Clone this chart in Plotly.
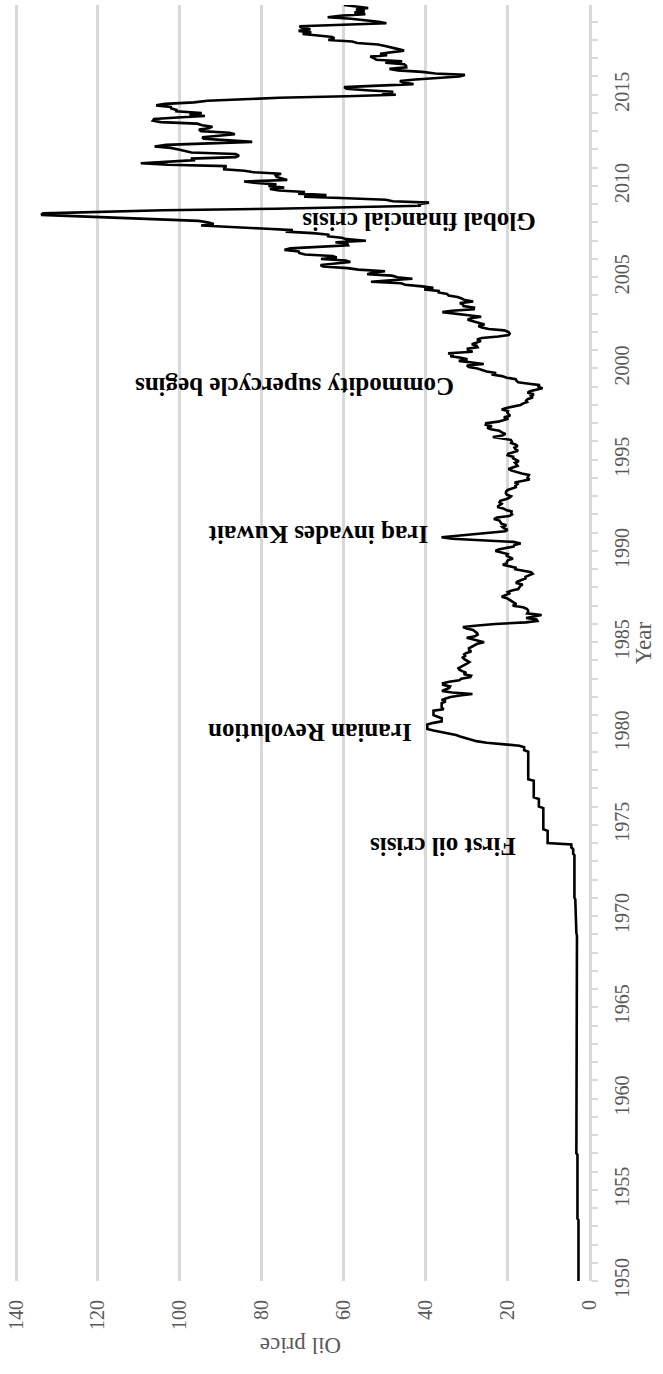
import pandas as pd
import plotly.graph_objects as go

# ---------------- data ----------------
# posted-price era (change points)
early_dates = ["1950-01-01", "1953-05-01", "1953-06-01", "1956-12-01", "1957-01-01",
               "1959-01-01", "1959-02-01", "1964-12-01", "1968-12-01", "1969-02-01",
               "1970-11-01", "1970-12-01", "1971-01-01", "1973-05-01", "1973-06-01",
               "1973-09-01", "1973-10-01", "1973-12-01", "1974-01-01", "1974-09-01",
               "1974-10-01", "1975-12-01", "1976-01-01", "1976-06-01", "1976-07-01",
               "1977-06-01", "1977-07-01", "1978-12-01"]
early_prices = [2.57, 2.57, 2.82, 2.82, 3.09,
                3.07, 2.97, 2.92, 2.94, 3.09,
                3.18, 3.35, 3.56, 3.56, 3.87,
                3.87, 4.31, 4.31, 10.11, 10.11,
                11.16, 11.16, 12.25, 12.25, 13.50,
                13.50, 14.85, 14.85]

monthly_start = "1979-01-01"
prices_1979_1989 = [
    14.85, 15.85, 15.85, 15.85, 17.00, 21.75, 25.00, 27.50, 29.00, 30.00, 31.50, 32.50,
    34.50, 37.00, 38.00, 39.50, 39.50, 39.50, 39.50, 38.00, 36.00, 36.00, 36.00, 37.00,
    38.00, 38.00, 38.00, 38.00, 35.50, 36.00, 36.00, 36.00, 36.00, 35.00, 36.00, 35.00,
    33.85, 31.56, 28.48, 33.45, 35.93, 35.07, 34.16, 33.95, 35.63, 35.68, 34.15, 31.72,
    31.19, 28.99, 28.81, 30.61, 30.00, 31.00, 31.66, 31.90, 31.11, 30.41, 29.84, 29.24,
    29.98, 30.55, 30.85, 30.26, 30.51, 29.96, 28.79, 29.30, 29.34, 28.75, 28.20, 27.30,
    25.64, 27.30, 28.24, 29.88, 27.89, 27.20, 27.33, 27.73, 28.33, 29.88, 30.80, 27.21,
    22.93, 15.46, 12.61, 12.84, 15.38, 13.43, 11.59, 15.10, 14.87, 14.90, 15.22, 16.11,
    18.65, 17.75, 18.30, 18.68, 19.44, 20.07, 21.34, 20.31, 19.53, 19.86, 18.85, 17.28,
    17.13, 16.80, 16.20, 17.86, 17.42, 16.53, 15.50, 15.52, 14.54, 13.77, 14.14, 16.38,
    18.02, 17.94, 19.48, 21.07, 20.12, 20.05, 19.78, 18.58, 19.59, 20.10, 19.86, 21.10,
]
prices_1990_1999 = [
    22.86, 22.11, 20.39, 18.43, 18.20, 16.70, 18.45, 27.31, 33.51, 36.04, 32.33, 27.28,
    25.23, 20.48, 19.90, 20.83, 21.23, 20.19, 21.40, 21.69, 21.89, 23.23, 22.46, 19.50,
    18.79, 19.01, 18.92, 20.23, 20.98, 22.39, 21.78, 21.34, 21.88, 21.69, 20.34, 19.41,
    19.03, 20.09, 20.32, 20.25, 19.95, 19.09, 17.89, 18.01, 17.50, 18.15, 16.61, 14.52,
    15.03, 14.78, 14.68, 16.42, 17.89, 19.06, 19.66, 18.38, 17.45, 17.72, 18.07, 17.16,
    18.04, 18.57, 18.54, 19.90, 19.74, 18.45, 17.33, 18.02, 18.23, 17.43, 17.99, 19.03,
    18.85, 19.09, 21.33, 23.50, 21.17, 20.42, 21.30, 21.90, 23.97, 24.88, 23.71, 25.23,
    25.13, 22.18, 20.97, 19.70, 20.82, 19.26, 19.66, 19.95, 19.80, 21.33, 20.19, 18.33,
    16.72, 16.06, 15.12, 15.35, 14.91, 13.72, 14.17, 13.47, 15.03, 14.46, 13.00, 11.35,
    12.52, 12.01, 14.68, 17.31, 17.72, 17.92, 20.10, 21.28, 23.80, 22.69, 25.00, 26.10,
]
prices_2000_2009 = [
    27.26, 29.37, 29.84, 25.72, 28.79, 31.82, 29.70, 31.26, 33.88, 33.11, 34.42, 28.44,
    29.59, 29.61, 27.25, 27.49, 28.63, 27.60, 26.43, 27.37, 26.20, 22.17, 19.64, 19.39,
    19.72, 20.72, 24.53, 26.18, 27.04, 25.52, 26.97, 28.39, 29.66, 28.84, 26.35, 29.46,
    32.95, 35.83, 33.51, 28.17, 28.11, 30.66, 30.76, 31.57, 28.31, 30.34, 31.11, 32.13,
    34.31, 34.69, 36.74, 36.75, 40.28, 38.03, 40.78, 44.90, 45.94, 53.28, 48.47, 43.15,
    46.84, 48.15, 54.19, 52.98, 49.83, 56.35, 59.00, 64.99, 65.59, 62.26, 58.32, 59.41,
    65.49, 61.63, 62.69, 69.44, 70.84, 70.95, 74.41, 73.04, 63.80, 58.89, 59.08, 61.96,
    54.51, 59.28, 60.44, 63.98, 63.46, 67.49, 74.12, 72.36, 79.92, 85.80, 94.77, 91.69,
    92.97, 95.39, 105.45, 112.58, 125.40, 133.88, 133.37, 116.67, 104.11, 76.61, 57.31, 41.12,
    41.71, 39.09, 47.94, 49.65, 59.03, 69.64, 64.15, 71.05, 69.41, 75.72, 77.99, 74.47,
]
prices_2010_2019 = [
    78.33, 76.39, 81.20, 84.29, 73.74, 75.34, 76.32, 76.60, 75.24, 81.89, 84.25, 89.15,
    89.17, 88.58, 102.86, 109.53, 100.90, 96.26, 97.30, 86.33, 85.52, 86.32, 97.16, 98.56,
    100.27, 102.20, 106.16, 103.32, 94.66, 82.30, 87.90, 94.13, 94.51, 89.49, 86.53, 87.86,
    94.76, 95.31, 92.94, 92.02, 94.51, 95.77, 104.67, 106.57, 106.29, 100.54, 93.86, 97.63,
    94.62, 100.82, 100.80, 102.07, 102.18, 105.79, 103.59, 96.54, 93.21, 84.40, 75.79, 59.29,
    47.22, 50.58, 47.82, 54.45, 59.27, 59.82, 50.90, 42.87, 45.48, 46.22, 42.44, 37.19,
    31.68, 30.32, 37.55, 40.75, 46.71, 48.76, 44.65, 44.72, 45.18, 49.78, 45.66, 51.97,
    52.50, 53.47, 49.33, 51.06, 48.48, 45.18, 46.63, 48.04, 49.82, 51.58, 56.64, 57.88,
    63.70, 62.23, 62.73, 66.25, 69.98, 67.87, 70.98, 68.06, 70.23, 70.75, 56.96, 49.52,
    51.38, 54.95, 58.15, 63.86, 60.83, 54.66, 57.35, 54.81, 56.95, 53.96, 57.03, 59.88,
]

event_labels = ["Global financial crisis", "Commodity supercycle begins",
                "Iraq invades Kuwait", "Iranian Revolution", "First oil crisis"]
event_dates = ["2008-02-01", "1999-01-01", "1990-11-15", "1980-01-10", "1973-10-10"]
price_ticks = [0, 20, 40, 60, 80, 100, 120, 140]

# ---------------- build ----------------
monthly_prices = prices_1979_1989 + prices_1990_1999 + prices_2000_2009 + prices_2010_2019
monthly_dates = list(pd.date_range(monthly_start, periods=len(monthly_prices), freq="MS").strftime("%Y-%m-%d"))
dates = early_dates + monthly_dates
prices = early_prices + monthly_prices

FONT = "Liberation Serif"
GRID = "#d9d9d9"
TXT = "#595959"

fig = go.Figure()
fig.add_trace(go.Scatter(x=prices, y=dates, mode="lines",
                         line=dict(color="black", width=2.6), hoverinfo="skip",
                         showlegend=False))

label_right_price = [12.5, 32.5, 38.7, 42.8, 17.5]
for lab, d, p in zip(event_labels, event_dates, label_right_price):
    fig.add_annotation(x=p, y=d, xref="x", yref="y", text=lab, showarrow=False,
                       textangle=180, xanchor="right", yanchor="middle",
                       font=dict(family=FONT, size=25, color="black", weight="bold"))

fig.add_annotation(x=0.5, y=-0.051, xref="paper", yref="paper", text="Oil price",
                   showarrow=False, textangle=180, xanchor="center", yanchor="middle",
                   font=dict(family=FONT, size=23, color=TXT))
fig.add_annotation(x=1.094, y=0.5, xref="paper", yref="paper", text="Year",
                   showarrow=False, textangle=-90, xanchor="center", yanchor="middle",
                   font=dict(family=FONT, size=23, color=TXT))

fig.update_layout(
    width=663, height=1374,
    margin=dict(l=10, r=74, t=5, b=93),
    paper_bgcolor="white", plot_bgcolor="white",
    xaxis=dict(range=[141, 0], tickvals=price_ticks, showgrid=True, gridcolor=GRID,
               gridwidth=2.5, zeroline=False, showline=False, ticks="",
               tickangle=-90, ticklabelstandoff=14,
               tickfont=dict(family=FONT, size=20, color=TXT)),
    yaxis=dict(type="date", range=["1950-01-01", "2019-12-01"], side="right",
               showgrid=False, zeroline=False, showline=True, linecolor=GRID,
               linewidth=2.5, ticks="outside", ticklen=6, tickwidth=2, tickcolor=GRID,
               dtick="M60", tick0="1950-01-01", tickformat="%Y", tickangle=-90,
               ticklabelstandoff=7,
               tickfont=dict(family=FONT, size=20, color=TXT),
               minor=dict(dtick="M12", ticks="outside", ticklen=6, tickwidth=2,
                          tickcolor=GRID, showgrid=False)),
)

fig.write_html("out.html", config={"displayModeBar": False},
               post_script="document.body.style.margin='0px';document.body.style.overflow='hidden';")
